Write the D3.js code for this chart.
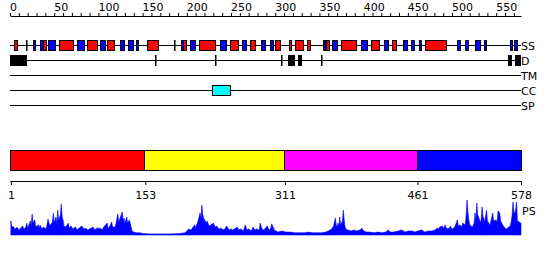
<!DOCTYPE html>
<html>
<head>
<meta charset="utf-8">
<script src="https://cdnjs.cloudflare.com/ajax/libs/d3/7.8.5/d3.min.js"></script>
<style>
  body { margin: 0; background: #fff; }
  text { font-family: "DejaVu Sans", sans-serif; }
</style>
</head>
<body>
<div id="chart-area"></div>
<script>

// Sequence length and domain boundaries
var seqLength = 578;
var domainBounds = [1, 153, 311, 461, 578];

// SS track: helices and strands [start, end]
var helices = [[5,9],[38,41],[56,72],[88,99],[111,119],[156,169],[197,201],[215,233],[250,259],
    [272,278],[301,307],[317,319],[323,332],[337,340],[358,361],[375,392],[409,418],[433,438],[470,494]];
var strands = [[19,19],[27,29],[35,38],[44,52],[77,85],[103,109],[125,130],[135,141],[143,145],
    [187,187],[194,196],[205,211],[239,246],[263,268],[285,290],[295,298],[355,357],[365,371],
    [398,405],[424,429],[445,450],[455,459],[464,466],[507,511],[516,520],[527,533],[537,539],
    [567,569],[571,574]];

// D track: disordered regions
var disorder = [[1,19],[165,165],[233,233],[308,308],[315,322],[327,331],[353,353],[564,568],[572,578]];

// TM, CC, SP tracks
var transmembrane = [];
var coiledCoil = [[229,249]];
var signalPeptide = [];

var trackNames = ["SS", "D", "TM", "CC", "SP"];

// PS profile [residue, value]
var psProfile = [[1,.39],[2,.22],[3,.25],[6,.17],[8,.22],[10,.14],[12,.19],[14,.25],[16,.17],[18,.22],
    [19,.33],[20,.19],[23,.39],[24,.25],[25,.58],[26,.33],[28,.42],[29,.22],[32,.28],[33,.19],
    [34,.28],[36,.17],[38,.22],[41,.17],[43,.44],[45,.25],[48,.36],[49,.61],[50,.33],[52,.5],
    [53,.31],[54,.69],[55,.39],[57,.56],[58,.86],[59,.5],[60,.42],[61,.25],[63,.22],[66,.33],
    [67,.19],[69,.25],[71,.17],[74,.22],[76,.14],[78,.19],[81,.25],[84,.17],[86,.19],[88,.14],
    [90,.17],[94,.22],[96,.14],[98,.19],[102,.19],[104,.14],[106,.22],[110,.33],[111,.17],[113,.25],
    [115,.36],[116,.22],[119,.22],[120,.33],[122,.58],[123,.33],[124,.44],[127,.64],[128,.39],[129,.47],
    [130,.31],[132,.5],[133,.33],[135,.42],[137,.22],[138,.11],[140,.08],[143,.06],[147,.06],[150,.04],
    [158,.03],[170,.03],[181,.03],[192,.04],[198,.06],[200,.11],[202,.17],[205,.14],[207,.22],[209,.28],
    [210,.19],[213,.42],[215,.61],[216,.44],[217,.83],[218,.56],[219,.47],[222,.33],[223,.39],[225,.25],
    [227,.28],[230,.33],[232,.22],[234,.25],[236,.17],[239,.19],[241,.14],[243,.17],[245,.25],[248,.14],
    [250,.17],[252,.14],[254,.17],[257,.22],[259,.14],[261,.17],[264,.11],[266,.28],[268,.14],[270,.17],
    [273,.11],[275,.22],[277,.14],[279,.17],[282,.14],[283,.33],[285,.17],[287,.14],[288,.17],[291,.25],
    [293,.14],[295,.19],[296,.31],[299,.14],[301,.11],[303,.08],[308,.11],[312,.08],[317,.08],[322,.06],
    [328,.06],[334,.06],[337,.08],[342,.06],[348,.06],[353,.06],[357,.08],[360,.11],[362,.14],[364,.17],
    [366,.25],[368,.47],[369,.28],[370,.22],[371,.33],[372,.25],[373,.5],[374,.28],[376,.39],[377,.69],
    [378,.42],[379,.22],[380,.17],[382,.14],[386,.11],[389,.14],[392,.11],[396,.14],[398,.19],[400,.11],
    [403,.08],[407,.08],[412,.06],[416,.08],[421,.06],[425,.08],[428,.14],[430,.08],[434,.08],[439,.11],
    [443,.14],[447,.08],[450,.11],[455,.11],[458,.08],[461,.11],[466,.14],[469,.08],[473,.11],[477,.11],
    [481,.14],[483,.19],[485,.17],[486,.22],[489,.25],[490,.17],[492,.28],[494,.17],[497,.19],[498,.25],
    [500,.17],[502,.19],[504,.28],[506,.42],[507,.25],[509,.28],[511,.22],[512,.33],[515,.28],[516,.56],
    [517,.97],[518,.61],[519,.42],[520,.28],[523,.22],[525,.33],[526,.61],[527,.39],[528,.89],[529,.56],
    [530,.5],[532,.33],[533,.44],[534,.78],[535,.5],[536,.47],[537,.36],[538,.53],[539,.69],[540,.39],
    [543,.28],[544,.39],[546,.61],[547,.39],[550,.42],[551,.33],[552,.67],[554,.61],[555,.39],[558,.25],
    [560,.19],[562,.17],[564,.22],[566,.25],[567,.39],[568,.56],[569,.92],[570,.61],[571,.61],[572,.72],
    [573,.92],[574,.33],[575,.39],[577,.33],[578,.33]];


var width = 550, height = 260;

var svg = d3.select("#chart-area")
    .append("svg")
        .attr("width", width)
        .attr("height", height);

// X Scale (residues)
var x = d3.scaleLinear()
    .domain([0, seqLength])
    .range([10, 521]);

// Track rows
var rowY = d3.scalePoint()
    .domain(trackNames)
    .range([45, 105]);

// Ruler on top
var rulerCall = d3.axisTop(x)
    .tickValues(d3.range(0, 571, 10))
    .tickSize(3)
    .tickSizeOuter(0)
    .tickPadding(2)
    .tickFormat(function(d){ return d % 50 === 0 ? d : ""; });

var ruler = svg.append("g")
    .attr("transform", "translate(0,16)")
    .call(rulerCall);
ruler.selectAll("text")
    .attr("text-anchor", "start")
    .attr("x", -0.5)
    .attr("font-size", "11px")
    .attr("font-family", "DejaVu Sans");

// Track base lines
var tracks = svg.selectAll(".track")
    .data(trackNames)
    .enter()
    .append("g")
        .attr("class", "track")
        .attr("transform", function(d){ return "translate(0," + rowY(d) + ")"; });

tracks.append("line")
    .attr("x1", x(0))
    .attr("x2", x(seqLength))
    .attr("y1", 0.5)
    .attr("y2", 0.5)
    .attr("stroke", "#000")
    .attr("shape-rendering", "crispEdges");

tracks.append("text")
    .attr("x", x(seqLength))
    .attr("y", 4.5)
    .attr("font-size", "11px")
    .text(function(d){ return d; });

// Feature boxes
function drawBoxes(list, track, fill) {
    svg.append("g")
        .selectAll("rect")
        .data(list)
        .enter()
        .append("rect")
            .attr("x", function(d){ return Math.round(x(d[0] - 1)) + 0.5; })
            .attr("y", rowY(track) - 4.5)
            .attr("width", function(d){ return Math.max(Math.round(x(d[1]) - x(d[0] - 1)) - 1, 0.5); })
            .attr("height", 10)
            .attr("fill", fill)
            .attr("stroke", "#000");
}

drawBoxes(strands, "SS", "#0000ff");
drawBoxes(helices, "SS", "#ff0000");
drawBoxes(disorder, "D", "#000");
drawBoxes(transmembrane, "TM", "#00ff00");
drawBoxes(coiledCoil, "CC", "#00ffff");
drawBoxes(signalPeptide, "SP", "#ff9900");

// Domain bar
var domainColor = ["#ff0000", "#ffff00", "#ff00ff", "#0000ff"];
var domains = d3.pairs(domainBounds);

svg.append("g")
    .selectAll("rect")
    .data(domains)
    .enter()
    .append("rect")
        .attr("x", function(d){ return Math.round(x(d[0] - 1)) + 0.5; })
        .attr("y", 150.5)
        .attr("width", function(d, i){
            var end = i === domains.length - 1 ? d[1] : d[1] - 1;
            return Math.round(x(end)) - Math.round(x(d[0] - 1));
        })
        .attr("height", 20)
        .attr("fill", function(d, i){ return domainColor[i]; })
        .attr("stroke", "#000");

// Domain axis
var domainAxis = d3.axisBottom(x)
    .tickValues(domainBounds)
    .tickSize(4)
    .tickSizeOuter(0)
    .tickPadding(6)
    .tickFormat(d3.format("d"));

var dAxis = svg.append("g")
    .attr("transform", "translate(0,181)")
    .call(domainAxis);
dAxis.selectAll("text")
    .attr("font-size", "11px")
    .attr("font-family", "DejaVu Sans");

// PS profile
var y = d3.scaleLinear()
    .domain([0, 1])
    .range([235, 199]);

var area = d3.area()
    .x(function(d){ return x(d[0]); })
    .y0(y(0))
    .y1(function(d){ return y(d[1]); });

svg.append("path")
    .datum(psProfile)
    .attr("d", area)
    .attr("fill", "#0000ff")
    .attr("stroke", "#0000ff")
    .attr("stroke-width", 0.6);

svg.append("text")
    .attr("x", x(seqLength) + 1)
    .attr("y", 215)
    .attr("font-size", "11px")
    .text("PS");

</script>
</body>
</html>
